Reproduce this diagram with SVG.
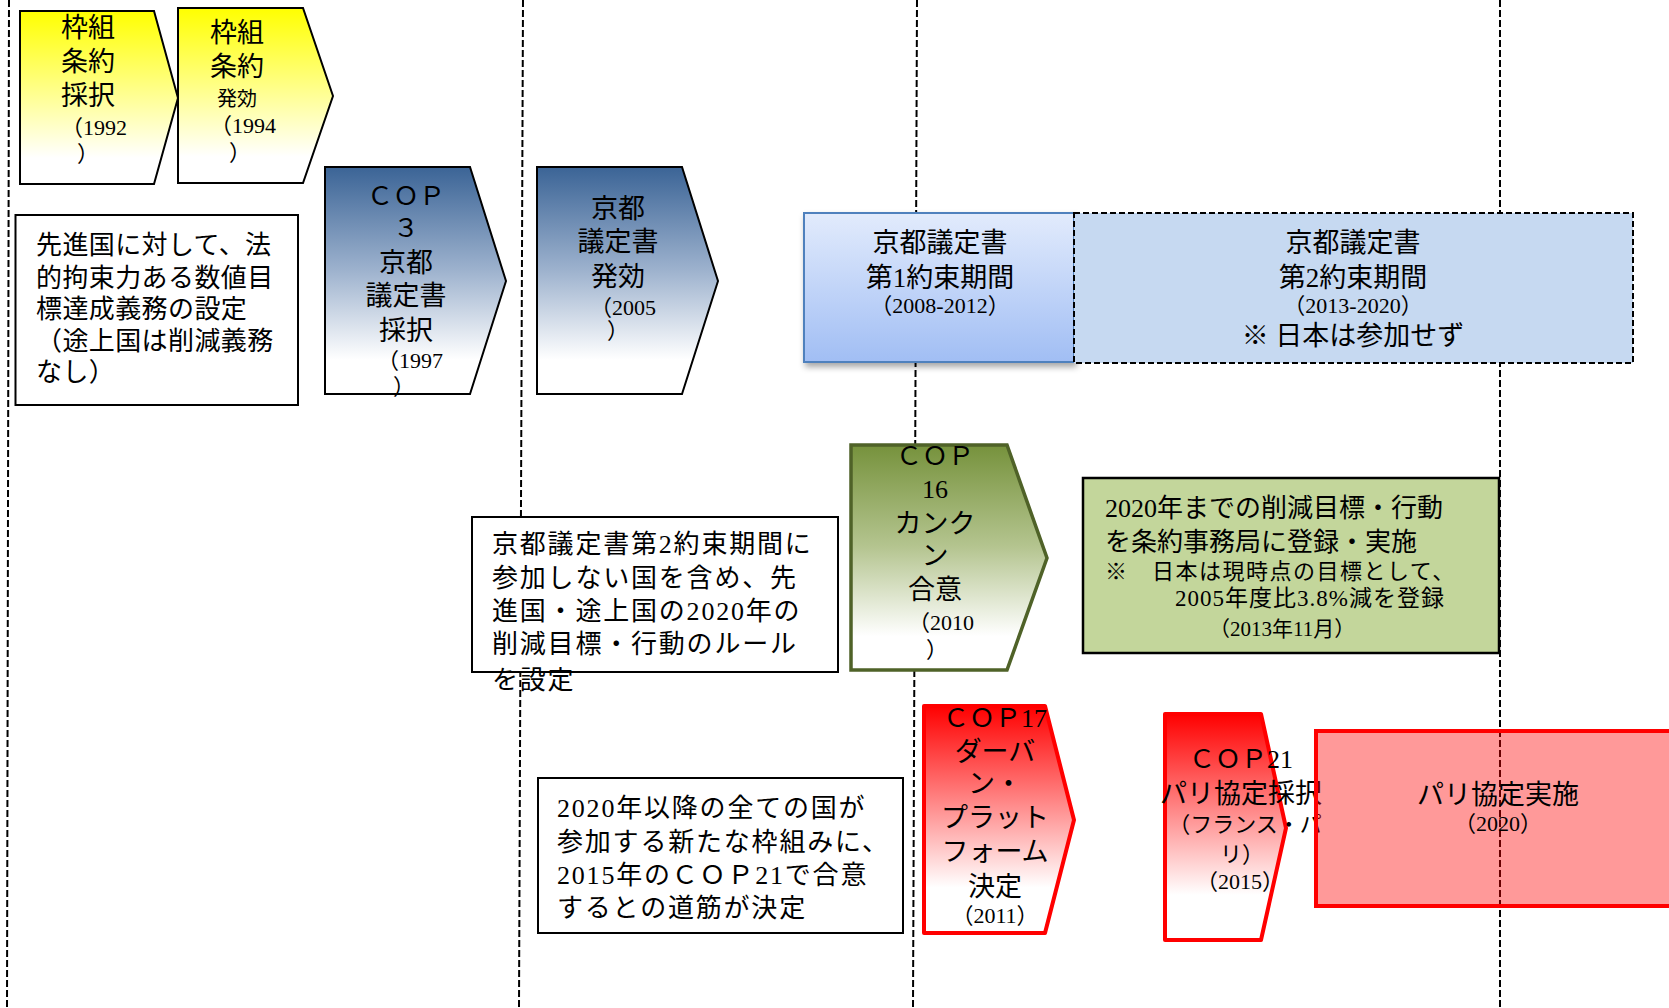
<svg xmlns="http://www.w3.org/2000/svg" width="1669" height="1008" viewBox="0 0 1669 1008">
<style>
.t{font-family:'Liberation Serif','Noto Sans CJK JP',serif;fill:#000}
.m{text-anchor:middle}
.s20{font-size:20px}
.s21{font-size:21px}
.s22{font-size:22px}
.s26{font-size:26px}
.s27{font-size:27px}
.box{fill:#fff;stroke:#000;stroke-width:2}
.grid line{stroke:#000;stroke-width:2;stroke-dasharray:7 3}
</style>
<defs>
<linearGradient id="gY" x1="0" y1="0" x2="0" y2="1"><stop offset="0" stop-color="#FFFF00"/><stop offset="0.85" stop-color="#FFFFFF"/></linearGradient>
<linearGradient id="gB" x1="0" y1="0" x2="0" y2="1"><stop offset="0" stop-color="#3B6496"/><stop offset="0.45" stop-color="#9CB1CD"/><stop offset="0.85" stop-color="#FFFFFF"/></linearGradient>
<linearGradient id="gG" x1="0" y1="0" x2="0" y2="1"><stop offset="0" stop-color="#76923C"/><stop offset="0.45" stop-color="#B4C48F"/><stop offset="0.85" stop-color="#FFFFFF"/></linearGradient>
<linearGradient id="gR" x1="0" y1="0" x2="0" y2="1"><stop offset="0" stop-color="#FF0000"/><stop offset="0.8" stop-color="#FFFFFF"/></linearGradient>
<linearGradient id="gL" x1="0" y1="0" x2="0" y2="1"><stop offset="0" stop-color="#E2EBFC"/><stop offset="1" stop-color="#A1BEF4"/></linearGradient>
<filter id="sh" x="-5%" y="-5%" width="115%" height="125%"><feDropShadow dx="2" dy="4" stdDeviation="3" flood-color="#000" flood-opacity="0.35"/></filter>
</defs>

<g id="grid-lines" class="grid">
<line x1="9" y1="0" x2="7" y2="1008"/>
<line x1="523" y1="0" x2="519" y2="1008"/>
<line x1="917" y1="0" x2="913" y2="1008"/>
<line x1="1500" y1="0" x2="1500" y2="1008"/>
</g>

<g id="unfccc-adopt">
<polygon points="20,11 154,11 178,98 154,184 20,184" fill="url(#gY)" stroke="#000" stroke-width="2"/>
<text class="t m s27"><tspan x="88" y="37">枠組</tspan><tspan x="88" y="71">条約</tspan><tspan x="88" y="105">採択</tspan></text>
<text class="t m s22"><tspan x="94" y="135">（1992</tspan><tspan x="88" y="161">）</tspan></text>
</g>

<g id="unfccc-effect">
<polygon points="178,8 303,8 333,96 303,183 178,183" fill="url(#gY)" stroke="#000" stroke-width="2"/>
<text class="t m s27"><tspan x="237" y="42">枠組</tspan><tspan x="237" y="76">条約</tspan></text>
<text class="t m s20" x="237" y="106">発効</text>
<text class="t m s22"><tspan x="243" y="133">（1994</tspan><tspan x="240" y="160">）</tspan></text>
</g>

<g id="note-developed">
<rect class="box" x="15.5" y="215" width="282.5" height="190"/>
<text class="t s26" letter-spacing="0.4"><tspan x="36" y="254">先進国に対して、法</tspan><tspan x="36" y="287">的拘束力ある数値目</tspan><tspan x="36" y="318">標達成義務の設定</tspan><tspan x="36" y="350">（途上国は削減義務</tspan><tspan x="36" y="381">なし）</tspan></text>
</g>

<g id="cop3">
<polygon points="325,167 470,167 506,281 470,394 325,394" fill="url(#gB)" stroke="#000" stroke-width="2"/>
<text class="t m s26"><tspan x="406" y="205">ＣＯＰ</tspan><tspan x="406" y="237">３</tspan></text>
<text class="t m s27"><tspan x="406" y="272">京都</tspan><tspan x="406" y="305">議定書</tspan><tspan x="406" y="340">採択</tspan></text>
<text class="t m s22"><tspan x="410" y="368">（1997</tspan><tspan x="404" y="394">）</tspan></text>
</g>

<g id="kyoto-effect">
<polygon points="537,167 682,167 718,281 682,394 537,394" fill="url(#gB)" stroke="#000" stroke-width="2"/>
<text class="t m s27"><tspan x="618" y="218">京都</tspan><tspan x="618" y="251">議定書</tspan><tspan x="618" y="286">発効</tspan></text>
<text class="t m s22"><tspan x="623" y="315">（2005</tspan><tspan x="618" y="338">）</tspan></text>
</g>

<g id="kyoto-period1">
<rect x="804" y="213" width="270" height="149" fill="url(#gL)" stroke="#4F81BD" stroke-width="2" filter="url(#sh)"/>
<text class="t m s27"><tspan x="940" y="252">京都議定書</tspan><tspan x="940" y="287">第1約束期間</tspan></text>
<text class="t m s22" x="940" y="313">（2008-2012）</text>
</g>

<g id="kyoto-period2">
<rect x="1074" y="213" width="559" height="150" fill="#C6D9F1" stroke="#000" stroke-width="2" stroke-dasharray="6 3"/>
<text class="t m s27"><tspan x="1353" y="252">京都議定書</tspan><tspan x="1353" y="287">第2約束期間</tspan></text>
<text class="t m s22" x="1353" y="313">（2013-2020）</text>
<text class="t m s27" x="1353" y="345">※ 日本は参加せず</text>
</g>

<g id="cop16">
<polygon points="851,445 1007,445 1047,558 1007,670 851,670" fill="url(#gG)" stroke="#4F6228" stroke-width="3.5"/>
<text class="t m s26"><tspan x="935" y="465">ＣＯＰ</tspan><tspan x="935" y="498">16</tspan></text>
<text class="t m s27"><tspan x="935" y="533">カンク</tspan><tspan x="935" y="565">ン</tspan><tspan x="935" y="599">合意</tspan></text>
<text class="t m s22"><tspan x="941" y="630">（2010</tspan><tspan x="937" y="657">）</tspan></text>
</g>

<g id="note-kyoto2">
<rect class="box" x="472" y="517" width="366" height="155"/>
<text class="t s26" letter-spacing="1.8"><tspan x="492" y="553">京都議定書第2約束期間に</tspan><tspan x="492" y="587">参加しない国を含め、先</tspan><tspan x="492" y="620">進国・途上国の2020年の</tspan><tspan x="492" y="653">削減目標・行動のルール</tspan><tspan x="492" y="689">を設定</tspan></text>
</g>

<g id="note-2020-targets">
<rect x="1083" y="478" width="416" height="175" fill="#C3D69B" stroke="#000" stroke-width="2.5"/>
<text class="t s26"><tspan x="1105" y="517">2020年までの削減目標・行動</tspan><tspan x="1105" y="551">を条約事務局に登録・実施</tspan></text>
<text class="t s22" letter-spacing="1.5" x="1105" y="579">※　日本は現時点の目標として、</text>
<text class="t" style="font-size:23px" letter-spacing="1" x="1175" y="606">2005年度比3.8%減を登録</text>
<text class="t s21" x="1209" y="636">（2013年11月）</text>
</g>

<g id="cop17">
<polygon points="924,706 1045,706 1074,820 1045,933 924,933" fill="url(#gR)" stroke="#FF0000" stroke-width="4" stroke-linejoin="round"/>
<text class="t m s26" x="995" y="727">ＣＯＰ17</text>
<text class="t m s27"><tspan x="995" y="761">ダーバ</tspan><tspan x="995" y="793">ン・</tspan><tspan x="995" y="827">プラット</tspan><tspan x="995" y="861">フォーム</tspan><tspan x="995" y="896">決定</tspan></text>
<text class="t m s22" x="995" y="923">（2011）</text>
</g>

<g id="note-post2020">
<rect class="box" x="538" y="778" width="365" height="155"/>
<text class="t s26" letter-spacing="1.8"><tspan x="557" y="817">2020年以降の全ての国が</tspan><tspan x="557" y="851">参加する新たな枠組みに、</tspan><tspan x="557" y="884">2015年のＣＯＰ21で合意</tspan><tspan x="557" y="917">するとの道筋が決定</tspan></text>
</g>

<g id="cop21">
<polygon points="1165,714 1261,714 1286,828 1261,940 1165,940" fill="url(#gR)" stroke="#FF0000" stroke-width="4" stroke-linejoin="round"/>
<text class="t m s26" x="1241" y="768">ＣＯＰ21</text>
<text class="t m s27" x="1241" y="803">パリ協定採択</text>
<text class="t m s22"><tspan x="1245" y="832">（フランス・パ</tspan><tspan x="1242" y="862">リ）</tspan></text>
<text class="t m s22" x="1240" y="889">（2015）</text>
</g>

<g id="paris-implementation">
<rect x="1316" y="731" width="370" height="175" fill="#FF0000" fill-opacity="0.4" stroke="#FF0000" stroke-width="4"/>
<text class="t m s27" x="1498" y="804">パリ協定実施</text>
<text class="t m s22" x="1498" y="831">（2020）</text>
</g>
</svg>
